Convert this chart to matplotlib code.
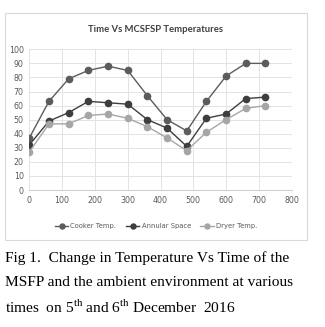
import matplotlib
matplotlib.use("Agg")
import matplotlib.pyplot as plt
from matplotlib.patches import Rectangle

time_min = [0, 60, 120, 180, 240, 300, 360, 420, 480, 540, 600, 660, 720]
cooker = [37, 63, 79, 85, 88, 85, 67, 50, 42, 63, 81, 90, 90]
annular = [32, 49, 55, 63, 62, 61, 50, 44, 31, 51, 54, 65, 66]
dryer = [27, 47, 47, 53, 54, 51, 45, 37, 28, 41, 50, 58, 60]
series_names = ["Cooker Temp.", "Annular Space", "Dryer Temp."]
series_colors = ["#5c5c5c", "#3e3e3e", "#a6a6a6"]
x_ticks = [0, 100, 200, 300, 400, 500, 600, 700, 800]
y_ticks = [0, 10, 20, 30, 40, 50, 60, 70, 80, 90, 100]
title = "Time Vs MCSFSP Temperatures"

plt.rcParams['mathtext.fontset'] = 'custom'
plt.rcParams['mathtext.rm'] = 'Liberation Serif'

fig = plt.figure(figsize=(3.25, 3.27), dpi=100)
fig.patches.append(Rectangle((5/325, 1-240/327), 302/325, 227/327, transform=fig.transFigure,
                             facecolor='white', edgecolor='#d9d9d9', lw=0.8, zorder=-5))

ax = fig.add_axes([29.3/325, 1-190/327, 262.4/325, 140.7/327])
ax.set_zorder(2)
for vals, name, col in zip([cooker, annular, dryer], series_names, series_colors):
    ax.plot(time_min, vals, color=col, lw=1.0, marker='o', ms=4.5, label=name,
            markeredgecolor=col)
ax.set_xlim(0, 800)
ax.set_ylim(0, 100)
ax.set_xticks(x_ticks)
ax.set_yticks(y_ticks)
ax.grid(True, color='#e3e3e3', lw=0.7)
ax.set_axisbelow(True)
for s in ax.spines.values():
    s.set_visible(False)
ax.spines['bottom'].set_visible(True)
ax.spines['bottom'].set_color('#d0d0d0')
ax.tick_params(length=0, labelsize=5.7, colors='#595959', pad=4)
ax.patch.set_alpha(0)

fig.text(156/325, 1-29/327, title, ha='center', va='center', fontsize=6.8,
         fontweight='bold', color='#404040', family='Lato')

leg = fig.legend(loc='center', bbox_to_anchor=(156/325, 1-226/327), ncol=3, frameon=False,
                 fontsize=4.9, handlelength=2.0, columnspacing=1.4, handletextpad=0.3,
                 markerscale=0.8)
for t in leg.get_texts():
    t.set_color('#595959')

cap_kw = dict(fontsize=11.1, family='Liberation Serif', color='black', ha='left', va='center')
fig.text(5/325, 1-258/327, "Fig 1.  Change in Temperature Vs Time of the", **cap_kw)
fig.text(5/325, 1-283/327, "MSFP and the ambient environment at various", **cap_kw)
fig.text(5/325, 1-307/327, r"times  on 5$^{\mathrm{th}}$ and 6$^{\mathrm{th}}$ December  2016", **cap_kw)

fig.savefig("out.png", dpi=100)
